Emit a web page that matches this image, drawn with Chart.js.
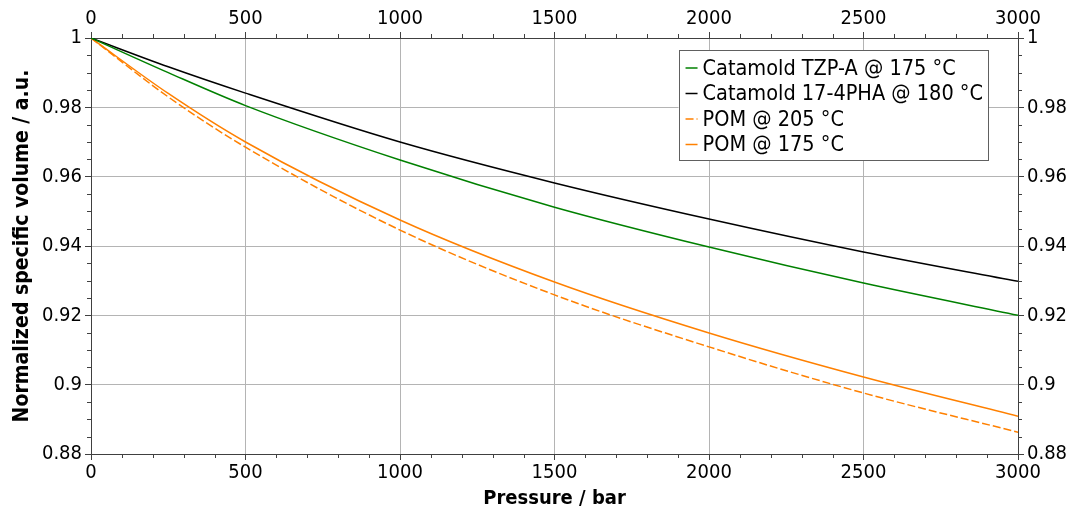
<!DOCTYPE html>
<html>
<head>
<meta charset="utf-8">
<script src="https://cdn.jsdelivr.net/npm/chart.js@4"></script>
<style>
  html, body { margin: 0; padding: 0; background: #fff; }
  #wrap { width: 1074px; height: 513px; }
</style>
</head>
<body>
<div id="wrap"><canvas id="chart" width="1074" height="513"></canvas></div>
<script>
// pressure in bar
const pressure = [0, 250, 500, 1000, 1500, 2000, 2500, 3000];

// normalized specific volume
const tzpA175 = [1, 0.9900, 0.9805, 0.9648, 0.9512, 0.9397, 0.9293, 0.9200];
const ph17180 = [1, 0.9917, 0.9841, 0.9700, 0.9582, 0.9478, 0.9383, 0.9298];
const pom205 = [1, 0.9830, 0.9685, 0.9446, 0.9259, 0.9109, 0.8976, 0.8863];
const pom175 = [1, 0.9840, 0.9700, 0.9475, 0.9296, 0.9149, 0.9022, 0.8909];

const labels = ['Catamold TZP-A @ 175 °C', 'Catamold 17-4PHA @ 180 °C', 'POM @ 205 °C', 'POM @ 175 °C'];

const xMin = 0, xMax = 3000, xStep = 500, xMinor = 100;
const yMin = 0.88, yMax = 1, yStep = 0.02, yMinor = 0.005;

const fontFamily = '"DejaVu Sans Condensed", "DejaVu Sans", sans-serif';
const axisColor = '#404040';
const gridColor = '#b4b4b4';
const orange = '#ff8000';

function toPoints(ys) {
  return pressure.map((p, i) => ({ x: p, y: ys[i] }));
}

function fmtX(v) {
  return String(Math.round(v));
}

function fmtY(v) {
  return Number(v.toFixed(2)).toString();
}

// small ticks between the labelled ones
const minorTicks = {
  id: 'minorTicks',
  afterDraw(chart) {
    const ctx = chart.ctx;
    const a = chart.chartArea;
    const xs = chart.scales.x;
    const ys = chart.scales.y;
    ctx.save();
    ctx.strokeStyle = axisColor;
    ctx.lineWidth = 1;
    ctx.beginPath();
    const nx = Math.round((xMax - xMin) / xMinor);
    for (let i = 1; i < nx; i++) {
      const v = xMin + i * xMinor;
      if (v % xStep === 0) continue;
      const px = Math.round(xs.getPixelForValue(v)) + 0.5;
      ctx.moveTo(px, a.bottom); ctx.lineTo(px, a.bottom + 4);
      ctx.moveTo(px, a.top); ctx.lineTo(px, a.top - 4);
    }
    const ny = Math.round((yMax - yMin) / yMinor);
    const per = Math.round(yStep / yMinor);
    for (let i = 1; i < ny; i++) {
      if (i % per === 0) continue;
      const v = yMin + i * yMinor;
      const py = Math.round(ys.getPixelForValue(v)) + 0.5;
      ctx.moveTo(a.left, py); ctx.lineTo(a.left - 4, py);
      ctx.moveTo(a.right, py); ctx.lineTo(a.right + 4, py);
    }
    ctx.stroke();
    ctx.restore();
  }
};

// boxed legend in the top right corner of the plot
const boxLegend = {
  id: 'boxLegend',
  afterDraw(chart) {
    const ctx = chart.ctx;
    const a = chart.chartArea;
    const sets = chart.data.datasets;
    ctx.save();
    ctx.font = '21.5px ' + fontFamily;
    let maxW = 0;
    sets.forEach(ds => { maxW = Math.max(maxW, ctx.measureText(ds.label).width); });
    const rowH = 25.5;
    const boxW = 7 + 12 + 5 + maxW + 5;
    const boxH = 110;
    const right = a.right - 30;
    const left = right - boxW;
    const top = a.top + 12;
    ctx.fillStyle = '#fff';
    ctx.fillRect(left, top, boxW, boxH);
    ctx.strokeStyle = '#606060';
    ctx.lineWidth = 1;
    ctx.strokeRect(Math.round(left) + 0.5, top + 0.5, Math.round(boxW), boxH);
    ctx.textBaseline = 'middle';
    sets.forEach((ds, i) => {
      const cy = top + 18 + i * rowH;
      ctx.strokeStyle = ds.borderColor;
      ctx.lineWidth = 1.5;
      ctx.setLineDash(ds.borderDash || []);
      ctx.beginPath();
      ctx.moveTo(left + 7, cy);
      ctx.lineTo(left + 19, cy);
      ctx.stroke();
      ctx.setLineDash([]);
      ctx.fillStyle = '#000';
      ctx.fillText(ds.label, left + 24, cy + 1);
    });
    ctx.restore();
  }
};

const tickFont = { family: fontFamily, size: 20 };

function xAxis(pos, withTitle, h) {
  return {
    type: 'linear',
    position: pos,
    min: xMin,
    max: xMax,
    ticks: { stepSize: xStep, color: '#000', font: tickFont, padding: 1, maxRotation: 0, callback: fmtX },
    grid: { color: gridColor, drawOnChartArea: pos === 'bottom', tickLength: 6, tickColor: axisColor },
    border: { color: axisColor },
    title: withTitle ? {
      display: true, text: 'Pressure / bar', color: '#000',
      font: { family: fontFamily, size: 20, weight: 'bold' },
      padding: { top: 0, bottom: 2 }
    } : { display: false },
    afterFit(scale) { scale.height = h; }
  };
}

function yAxis(pos, withTitle, w) {
  return {
    type: 'linear',
    position: pos,
    min: yMin,
    max: yMax,
    ticks: { stepSize: yStep, color: '#000', font: tickFont, padding: 3, callback: fmtY },
    grid: { color: gridColor, drawOnChartArea: pos === 'left', tickLength: 6, tickColor: axisColor },
    border: { color: axisColor },
    title: withTitle ? {
      display: true, text: 'Normalized specific volume / a.u.', color: '#000',
      font: { family: fontFamily, size: 21, weight: 'bold' },
      padding: { top: 10, bottom: 0 }
    } : { display: false },
    afterFit(scale) { scale.width = w; }
  };
}

function line(label, ys, color, dash) {
  return {
    label: label,
    data: toPoints(ys),
    borderColor: color,
    backgroundColor: color,
    borderWidth: 1.5,
    borderDash: dash,
    pointRadius: 0,
    fill: false,
    cubicInterpolationMode: 'monotone'
  };
}

new Chart(document.getElementById('chart').getContext('2d'), {
  type: 'line',
  data: {
    datasets: [
      line(labels[0], tzpA175, '#008000', []),
      line(labels[1], ph17180, '#000000', []),
      line(labels[2], pom205, orange, [8, 3]),
      line(labels[3], pom175, orange, [])
    ]
  },
  options: {
    animation: false,
    responsive: false,
    layout: { padding: 0 },
    plugins: { legend: { display: false }, tooltip: { enabled: false } },
    scales: {
      x: xAxis('bottom', true, 59),
      x2: xAxis('top', false, 38),
      y: yAxis('left', true, 91),
      y2: yAxis('right', false, 56)
    }
  },
  plugins: [minorTicks, boxLegend]
});
</script>
</body>
</html>
